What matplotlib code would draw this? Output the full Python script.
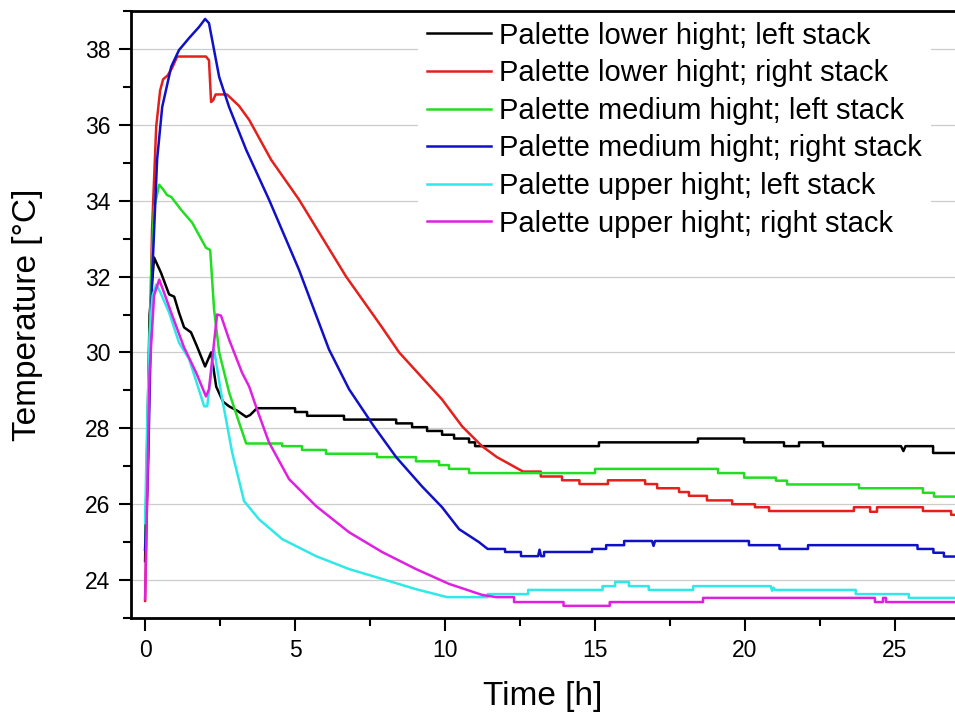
import matplotlib
matplotlib.use("Agg")
import matplotlib.pyplot as plt
from matplotlib.ticker import MultipleLocator

plt.rcParams["font.family"] = ["Liberation Sans", "DejaVu Sans"]

LABELS = [
    "Palette lower hight; left stack",
    "Palette lower hight; right stack",
    "Palette medium hight; left stack",
    "Palette medium hight; right stack",
    "Palette upper hight; left stack",
    "Palette upper hight; right stack",
]
COLORS = ["#000000", "#e3201c", "#22dd22", "#1010c8", "#30e8e8", "#e020e0"]

# (time [h], temperature [°C])
LOWER_LEFT = [
    (0, 24.5), (0.15, 31.0), (0.3, 32.5), (0.53, 32.1), (0.8, 31.53), (0.97, 31.47),
    (1.13, 31.05), (1.3, 30.66), (1.53, 30.53), (1.73, 30.16), (2.0, 29.63),
    (2.2, 30.0), (2.37, 29.1), (2.6, 28.7), (2.8, 28.58), (3.1, 28.45), (3.37, 28.3),
    (3.5, 28.35), (3.73, 28.53), (5.0, 28.53), (5.0, 28.43), (5.4, 28.43),
    (5.4, 28.33), (6.63, 28.33), (6.63, 28.23), (8.37, 28.23), (8.37, 28.13),
    (8.9, 28.13), (8.9, 28.03), (9.4, 28.03), (9.4, 27.93), (9.9, 27.93),
    (9.9, 27.83), (10.3, 27.83), (10.3, 27.73), (10.8, 27.73), (10.8, 27.63),
    (11.0, 27.63), (11.0, 27.53), (15.13, 27.53), (15.13, 27.63), (18.43, 27.63),
    (18.43, 27.73), (19.97, 27.73), (19.97, 27.63), (21.3, 27.63), (21.3, 27.53),
    (21.8, 27.53), (21.8, 27.63), (22.6, 27.63), (22.6, 27.53), (25.2, 27.53),
    (25.28, 27.4), (25.35, 27.53), (26.27, 27.53), (26.27, 27.35), (27.0, 27.35),
]
LOWER_RIGHT = [
    (0, 23.45), (0.1, 27.5), (0.23, 33.2), (0.37, 35.95), (0.5, 36.9), (0.6, 37.2),
    (0.75, 37.3), (0.9, 37.5), (1.07, 37.8), (2.03, 37.8), (2.13, 37.7),
    (2.2, 36.6), (2.27, 36.65), (2.35, 36.8), (2.73, 36.8), (3.13, 36.5),
    (3.47, 36.13), (4.2, 35.08), (5.13, 34.03), (6.7, 32.0), (7.9, 30.66),
    (8.47, 30.0), (9.9, 28.76), (10.57, 28.05), (11.23, 27.53), (11.73, 27.24),
    (12.6, 26.86), (13.19, 26.86), (13.19, 26.73), (13.9, 26.73), (13.9, 26.63),
    (14.48, 26.63), (14.48, 26.53), (15.43, 26.53), (15.43, 26.63), (16.67, 26.63),
    (16.67, 26.53), (17.07, 26.53), (17.07, 26.42), (17.8, 26.42), (17.8, 26.32),
    (18.13, 26.32), (18.13, 26.22), (18.73, 26.22), (18.73, 26.1), (19.57, 26.1),
    (19.57, 26.0), (20.33, 26.0), (20.33, 25.92), (20.8, 25.92), (20.8, 25.82),
    (23.63, 25.82), (23.63, 25.92), (24.17, 25.92), (24.17, 25.8), (24.4, 25.8),
    (24.4, 25.92), (25.93, 25.92), (25.93, 25.82), (26.87, 25.82), (26.87, 25.72),
    (27.0, 25.72),
]
MEDIUM_LEFT = [
    (0, 24.8), (0.1, 28.5), (0.2, 32.0), (0.3, 33.8), (0.47, 34.42), (0.6, 34.3),
    (0.73, 34.15), (0.87, 34.1), (1.2, 33.76), (1.57, 33.42), (2.03, 32.76),
    (2.17, 32.7), (2.3, 31.13), (2.47, 30.0), (2.8, 28.95), (3.13, 28.16),
    (3.37, 27.6), (4.57, 27.6), (4.57, 27.53), (5.23, 27.53), (5.23, 27.43),
    (6.03, 27.43), (6.03, 27.33), (7.73, 27.33), (7.73, 27.24), (9.03, 27.24),
    (9.03, 27.13), (9.8, 27.13), (9.8, 27.03), (10.13, 27.03), (10.13, 26.93),
    (10.8, 26.93), (10.8, 26.82), (15.0, 26.82), (15.0, 26.93), (19.1, 26.93),
    (19.1, 26.82), (19.97, 26.82), (19.97, 26.7), (21.03, 26.7), (21.03, 26.62),
    (21.4, 26.62), (21.4, 26.52), (23.8, 26.52), (23.8, 26.42), (25.93, 26.42),
    (25.93, 26.3), (26.3, 26.3), (26.3, 26.2), (27.0, 26.2),
]
MEDIUM_RIGHT = [
    (0, 24.8), (0.1, 27.0), (0.23, 31.9), (0.4, 35.08), (0.57, 36.47),
    (0.87, 37.53), (1.13, 37.97), (1.47, 38.29), (1.8, 38.58), (2.0, 38.79),
    (2.13, 38.68), (2.47, 37.26), (2.8, 36.47), (3.37, 35.34), (4.13, 34.03),
    (5.13, 32.18), (6.13, 30.08), (6.8, 29.03), (7.63, 28.05), (8.37, 27.24),
    (9.23, 26.47), (9.9, 25.92), (10.47, 25.34), (11.13, 25.0), (11.42, 24.82),
    (12.0, 24.82), (12.0, 24.74), (12.53, 24.74), (12.53, 24.63), (13.1, 24.63),
    (13.15, 24.8), (13.2, 24.63), (13.3, 24.63), (13.3, 24.74), (14.9, 24.74),
    (14.9, 24.82), (15.37, 24.82), (15.37, 24.92), (15.97, 24.92), (15.97, 25.03),
    (16.9, 25.03), (16.95, 24.9), (17.0, 25.03), (20.13, 25.03), (20.13, 24.92),
    (21.15, 24.92), (21.15, 24.82), (22.1, 24.82), (22.1, 24.92), (25.75, 24.92),
    (25.75, 24.82), (26.28, 24.82), (26.28, 24.72), (26.63, 24.72), (26.63, 24.62),
    (27.0, 24.62),
]
UPPER_LEFT = [
    (0, 25.5), (0.05, 27.5), (0.15, 30.5), (0.25, 31.5), (0.37, 31.79), (0.5, 31.6),
    (0.8, 31.05), (1.13, 30.26), (1.47, 29.82), (1.97, 28.58), (2.07, 28.58),
    (2.3, 30.08), (2.53, 28.95), (2.9, 27.37), (3.3, 26.08), (3.8, 25.6),
    (4.57, 25.08), (5.7, 24.63), (6.8, 24.29), (7.9, 24.03), (9.03, 23.76),
    (10.07, 23.55), (11.42, 23.55), (11.42, 23.63), (12.77, 23.63), (12.77, 23.74),
    (15.25, 23.74), (15.25, 23.84), (15.67, 23.84), (15.67, 23.95), (16.13, 23.95),
    (16.13, 23.84), (16.79, 23.84), (16.79, 23.74), (18.27, 23.74), (18.27, 23.84),
    (20.86, 23.84), (20.9, 23.72), (20.95, 23.8), (21.0, 23.74), (23.69, 23.74),
    (23.69, 23.63), (25.46, 23.63), (25.46, 23.53), (27.0, 23.53),
]
UPPER_RIGHT = [
    (0, 23.5), (0.05, 25.5), (0.15, 29.5), (0.3, 31.5), (0.47, 31.92),
    (0.63, 31.58), (0.87, 31.05), (1.3, 30.13), (1.7, 29.47), (2.03, 28.84),
    (2.13, 29.03), (2.4, 31.0), (2.53, 30.97), (2.8, 30.34), (3.23, 29.47),
    (3.47, 29.1), (3.73, 28.5), (4.13, 27.63), (4.8, 26.66), (5.7, 25.95),
    (6.8, 25.26), (7.9, 24.74), (9.03, 24.29), (10.13, 23.9), (11.23, 23.61),
    (11.7, 23.55), (12.3, 23.55), (12.3, 23.42), (13.95, 23.42), (13.95, 23.32),
    (15.49, 23.32), (15.49, 23.42), (18.6, 23.42), (18.6, 23.53), (24.33, 23.53),
    (24.33, 23.42), (24.6, 23.42), (24.6, 23.53), (24.7, 23.53), (24.7, 23.42),
    (27.0, 23.42),
]
SERIES = [LOWER_LEFT, LOWER_RIGHT, MEDIUM_LEFT, MEDIUM_RIGHT, UPPER_LEFT, UPPER_RIGHT]

fig = plt.figure(figsize=(9.55, 7.13), dpi=100)
ax = fig.add_axes([131 / 955, 95 / 713, 824 / 955, 607 / 713])

for pts, lab, col in zip(SERIES, LABELS, COLORS):
    t = [p[0] for p in pts]
    T = [p[1] for p in pts]
    ax.plot(t, T, color=col, lw=1.8, label=lab)

ax.set_xlim(-0.47, 27.0)
ax.set_ylim(23.0, 39.0)
ax.xaxis.set_major_locator(MultipleLocator(5))
ax.xaxis.set_minor_locator(MultipleLocator(2.5))
ax.yaxis.set_major_locator(MultipleLocator(2))
ax.yaxis.set_minor_locator(MultipleLocator(1))
ax.grid(axis="y", which="major", color="#cccccc", lw=0.9)
ax.set_axisbelow(True)

for s in ["left", "bottom", "top"]:
    ax.spines[s].set_linewidth(2.0)
ax.spines["right"].set_visible(False)
ax.tick_params(which="major", direction="out", length=9, width=1.5, labelsize=16.5, pad=6)
ax.tick_params(which="minor", direction="out", length=6, width=1.5)
ax.tick_params(top=False, right=False, which="both")

ax.set_xlabel("Time [h]", fontsize=24, labelpad=14)
ax.set_ylabel("Temperature [°C]", fontsize=24, labelpad=30)

leg = ax.legend(
    loc="upper left", bbox_to_anchor=(0.348, 0.997), borderaxespad=0,
    fontsize=21, frameon=True, fancybox=False, framealpha=1,
    edgecolor="none", facecolor="white", handlelength=2.2,
    handletextpad=0.3, labelspacing=0.33, borderpad=0.3,
)
for ln in leg.get_lines():
    ln.set_linewidth(1.8)

fig.savefig("out.png", dpi=100)
